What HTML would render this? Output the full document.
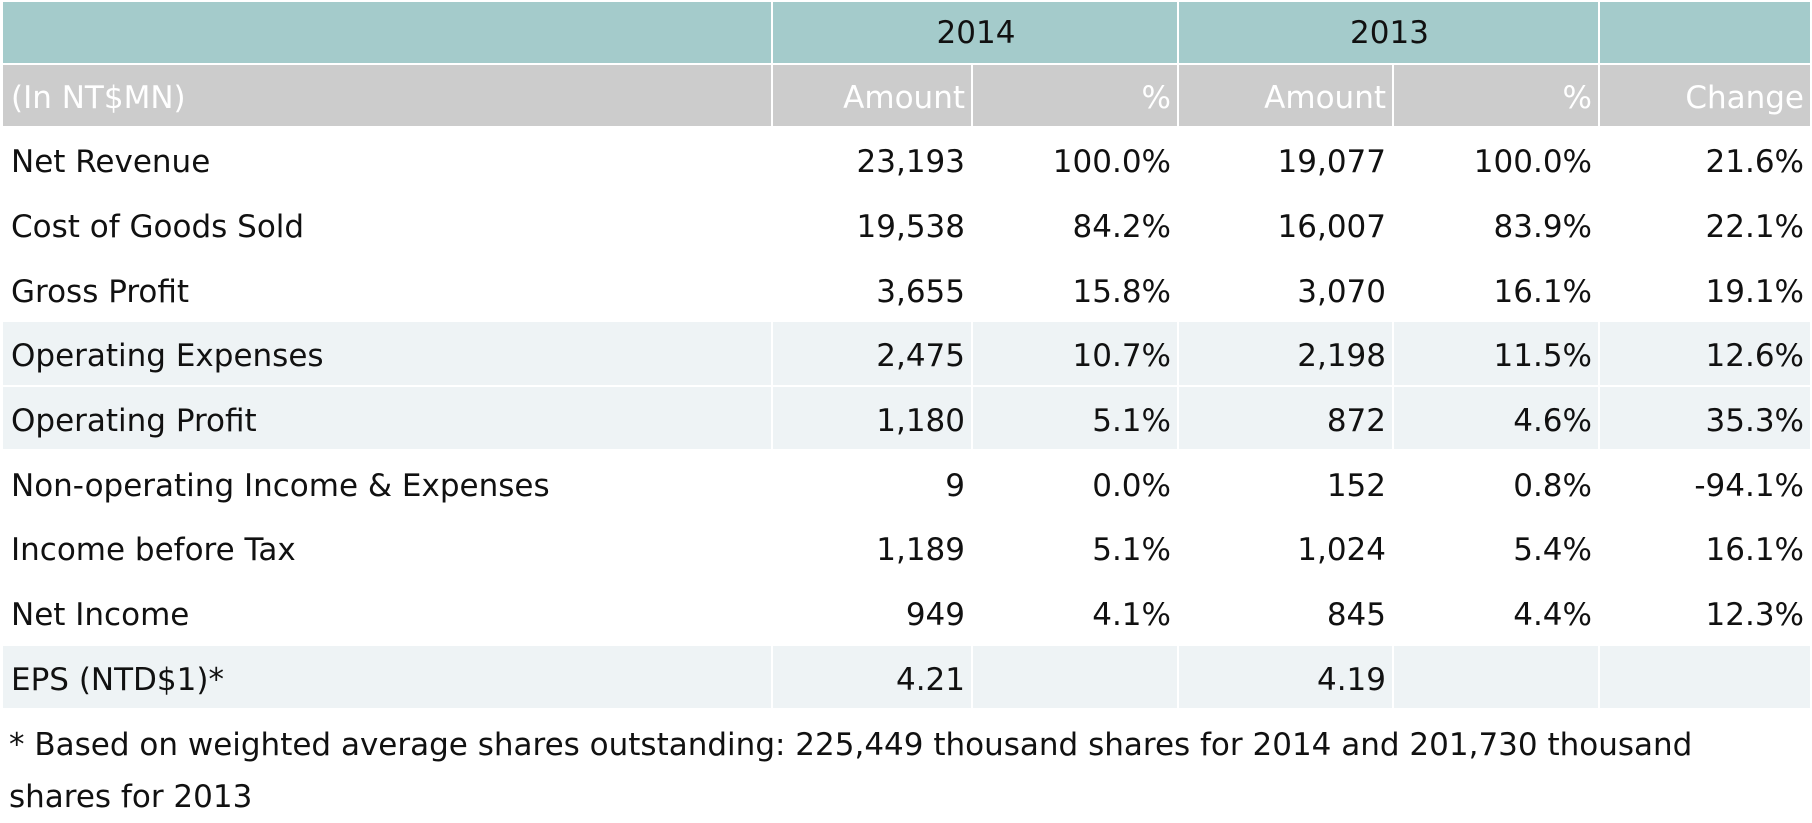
<!DOCTYPE html>
<html><head><meta charset="utf-8"><style>
html,body{margin:0;padding:0;background:#fff;width:1812px;height:820px;overflow:hidden}
body{font-family:"DejaVu Sans","Liberation Sans",sans-serif;font-size:31px;color:#111}
table{border-collapse:separate;border-spacing:2px;position:absolute;left:1px;top:0;table-layout:fixed;width:1811px}
td{box-sizing:border-box;padding:6px 6px 0 8px;height:62.7px;white-space:nowrap;text-align:right;overflow:visible}
td:first-child{text-align:left}
tr.h1 td{background:#a4cbcb;height:61px;text-align:center;padding-top:0}
tr.h2 td{background:#cccccc;color:#fff;height:61px;text-align:right;padding-top:4px}
tr.h2 td:first-child{text-align:left}
tr.g td{background:#eef3f5}
.note{position:absolute;left:9px;top:719px;line-height:52px;font-size:31px;width:1800px;white-space:nowrap}
</style></head><body>
<table>
<colgroup><col style="width:768px"><col style="width:198px"><col style="width:204px"><col style="width:213px"><col style="width:204px"><col style="width:210px"></colgroup>
<tr class="h1"><td></td><td colspan="2">2014</td><td colspan="2">2013</td><td></td></tr>
<tr class="h2"><td>(In NT$MN)</td><td>Amount</td><td>%</td><td>Amount</td><td>%</td><td>Change</td></tr>
<tr><td>Net Revenue</td><td>23,193</td><td>100.0%</td><td>19,077</td><td>100.0%</td><td>21.6%</td></tr>
<tr><td>Cost of Goods Sold</td><td>19,538</td><td>84.2%</td><td>16,007</td><td>83.9%</td><td>22.1%</td></tr>
<tr><td>Gross Profit</td><td>3,655</td><td>15.8%</td><td>3,070</td><td>16.1%</td><td>19.1%</td></tr>
<tr class="g"><td>Operating Expenses</td><td>2,475</td><td>10.7%</td><td>2,198</td><td>11.5%</td><td>12.6%</td></tr>
<tr class="g"><td>Operating Profit</td><td>1,180</td><td>5.1%</td><td>872</td><td>4.6%</td><td>35.3%</td></tr>
<tr><td>Non-operating Income &amp; Expenses</td><td>9</td><td>0.0%</td><td>152</td><td>0.8%</td><td>-94.1%</td></tr>
<tr><td>Income before Tax</td><td>1,189</td><td>5.1%</td><td>1,024</td><td>5.4%</td><td>16.1%</td></tr>
<tr><td>Net Income</td><td>949</td><td>4.1%</td><td>845</td><td>4.4%</td><td>12.3%</td></tr>
<tr class="g"><td>EPS (NTD$1)*</td><td>4.21</td><td></td><td>4.19</td><td></td><td></td></tr>
</table>
<div class="note">* Based on weighted average shares outstanding: 225,449 thousand shares for 2014 and 201,730 thousand<br>shares for 2013</div>
</body></html>
